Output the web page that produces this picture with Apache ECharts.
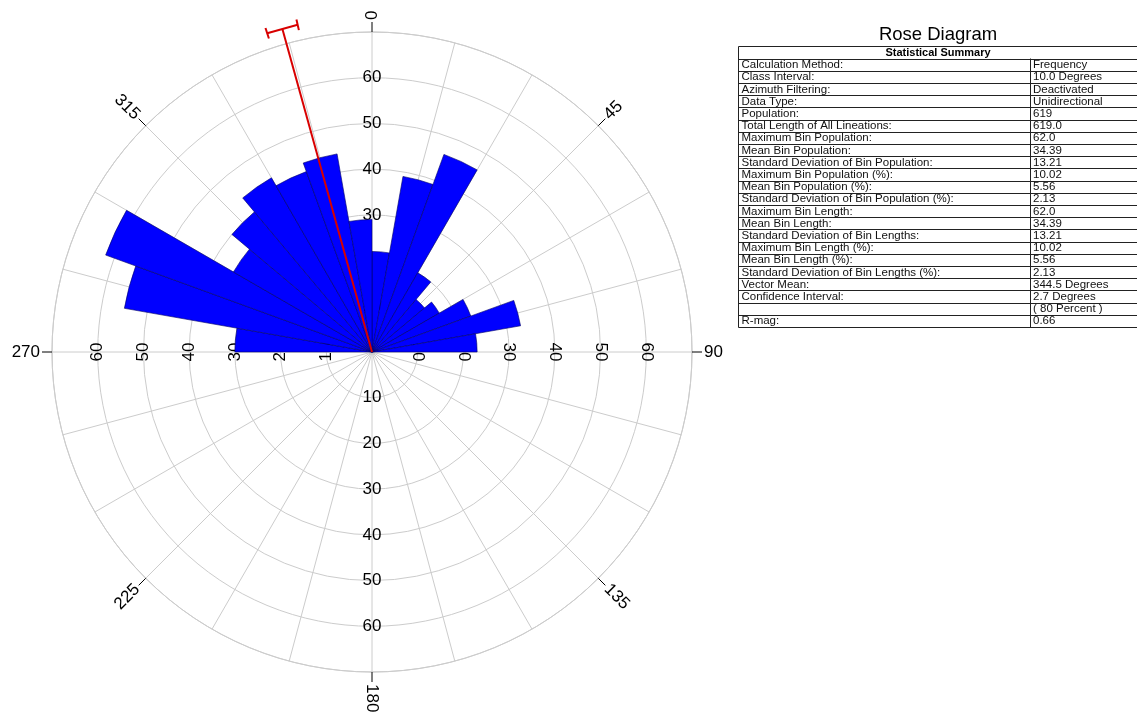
<!DOCTYPE html>
<html>
<head>
<meta charset="utf-8">
<title>Rose Diagram</title>
<script src="https://cdn.jsdelivr.net/npm/echarts@6/dist/echarts.min.js"></script>
<style>
html,body{margin:0;padding:0;background:#fff;}
#rose{width:1137px;height:713px;}
</style>
</head>
<body>
<div id="rose"></div>
<script>
// bin counts, 10 degree classes, clockwise from north (0-10, 10-20 ... 350-360)
var binCounts = [22,39,46,20,15,17,23,33,23,
                 0,0,0,0,0,0,0,0,0,
                 0,0,0,0,0,0,0,0,0,
                 30,55,62,35,40,44,42,44,29];
var binNames = [];
for (var i = 0; i < 36; i++) { binNames.push((i * 10) + "-" + (i * 10 + 10)); }

var compassTicks = [0,45,90,135,180,225,270,315];
var ringMax = 70;
var ringStep = 10;

// vector mean and its confidence interval (degrees)
var vectorMean = 344.5;
var confInterval = 2.7;
var vectorLength = 73.4;   //drawn a little past the outer ring

var statNames = ["Calculation Method:","Class Interval:","Azimuth Filtering:","Data Type:","Population:",
  "Total Length of All Lineations:","Maximum Bin Population:","Mean Bin Population:",
  "Standard Deviation of Bin Population:","Maximum Bin Population (%):","Mean Bin Population (%):",
  "Standard Deviation of Bin Population (%):","Maximum Bin Length:","Mean Bin Length:",
  "Standard Deviation of Bin Lengths:","Maximum Bin Length (%):","Mean Bin Length (%):",
  "Standard Deviation of Bin Lengths (%):","Vector Mean:","Confidence Interval:","","R-mag:"];
var statValues = ["Frequency","10.0 Degrees","Deactivated","Unidirectional","619","619.0","62.0","34.39",
  "13.21","10.02","5.56","2.13","62.0","34.39","13.21","10.02","5.56","2.13","344.5 Degrees",
  "2.7 Degrees","( 80 Percent )","0.66"];

var FONT = "'Liberation Sans', Arial, sans-serif";
var GRID = "#cccccc";

var rose = {
  center: [372, 352],
  radius: 320,

  init: function () {
    var chart = echarts.init(document.getElementById("rose"), null, {renderer: "canvas"});
    chart.setOption({
      animation: false,
      backgroundColor: "#fff",
      polar: rose.polars(),
      angleAxis: rose.angleAxes(),
      radiusAxis: rose.radiusAxes(),
      series: rose.series(),
      graphic: rose.table()
    });
  },

  polars: function () {
    var list = [];
    for (var i = 0; i < 5; i++) list.push({center: rose.center, radius: rose.radius});
    return list;
  },

  angleAxes: function () {
    return [
      {polarIndex: 0, type: "value", min: 0, max: 360, interval: 15, startAngle: 90, clockwise: true,
        axisLine: {lineStyle: {color: GRID, width: 1}}, axisTick: {show: false}, axisLabel: {show: false},
        splitLine: {show: true, lineStyle: {color: GRID, width: 1}}},
      {polarIndex: 1, type: "category", data: binNames, startAngle: 90, clockwise: true, show: false},
      {polarIndex: 2, type: "value", min: 0, max: 360, startAngle: 270, show: false},
      {polarIndex: 3, type: "value", min: 0, max: 360, startAngle: 0, show: false},
      {polarIndex: 4, type: "value", min: 0, max: 360, startAngle: 180, show: false}
    ];
  },

  //ring numbers, centred on each of the four main spokes
  ringLabel: function (rot) {
    return {show: true, rotate: rot, margin: 0, align: "center", verticalAlign: "middle",
      fontSize: 17, fontFamily: FONT, color: "#000",
      formatter: function (v) { return (v > 0 && v < ringMax) ? String(v) : ""; }};
  },

  radiusAxes: function () {
    var plain = function (idx, rot) {
      return {polarIndex: idx, type: "value", min: 0, max: ringMax, interval: ringStep,
        axisLine: {show: false}, axisTick: {show: false}, splitLine: {show: false},
        axisLabel: rose.ringLabel(rot)};
    };
    var first = plain(0, 0);
    first.splitLine = {show: true, lineStyle: {color: GRID, width: 1}};
    return [
      first,
      {polarIndex: 1, type: "value", min: 0, max: ringMax, show: false},
      plain(2, 0),
      plain(3, -90),
      plain(4, 90)
    ];
  },

  series: function () {
    return [
      {type: "bar", coordinateSystem: "polar", polarIndex: 1, data: binCounts,
        barCategoryGap: "0%", silent: true, z: 3,
        itemStyle: {color: "#0000ff", borderColor: "#000066", borderWidth: 0.6}},
      //compass tick marks and labels
      {type: "custom", coordinateSystem: "polar", polarIndex: 0, silent: true, z: 4,
        data: compassTicks.map(function (a) { return [ringMax, a]; }),
        renderItem: function (params, api) {
          var a = api.value(1);
          var p = api.coord([api.value(0), a]);
          var c = api.coord([0, a]);
          var dx = p[0] - c[0], dy = p[1] - c[1];
          var len = Math.sqrt(dx * dx + dy * dy);
          var ux = dx / len, uy = dy / len;
          var rot = 90 - a;
          if (rot < -90) rot += 180;
          var al = a <= 180 ? "left" : "right";
          return {type: "group", children: [
            {type: "line", shape: {x1: p[0], y1: p[1], x2: p[0] + ux * 10, y2: p[1] + uy * 10},
              style: {stroke: "#000", lineWidth: 1}},
            {type: "text", x: p[0] + ux * 12, y: p[1] + uy * 12, rotation: rot * Math.PI / 180,
              style: {text: String(a), fontSize: 17, fontFamily: FONT, fill: "#000",
                align: al, textAlign: al, verticalAlign: "middle", textVerticalAlign: "middle"}}
          ]};
        }},
      //vector mean with confidence bar
      {type: "custom", coordinateSystem: "polar", polarIndex: 0, silent: true, z: 5,
        data: [[vectorLength, vectorMean, confInterval]],
        renderItem: function (params, api) {
          var r = api.value(0), m = api.value(1), ci = api.value(2);
          var o = api.coord([0, m]), e = api.coord([r, m]);
          var b1 = api.coord([r, m - ci]), b2 = api.coord([r, m + ci]);
          var s1 = api.coord([r - 1.2, m - ci]), s2 = api.coord([r + 1.2, m - ci]);
          var s3 = api.coord([r - 1.2, m + ci]), s4 = api.coord([r + 1.2, m + ci]);
          var st = {stroke: "#d80000", lineWidth: 2};
          return {type: "group", children: [
            {type: "line", shape: {x1: o[0], y1: o[1], x2: e[0], y2: e[1]}, style: st},
            {type: "line", shape: {x1: b1[0], y1: b1[1], x2: b2[0], y2: b2[1]}, style: st},
            {type: "line", shape: {x1: s1[0], y1: s1[1], x2: s2[0], y2: s2[1]}, style: st},
            {type: "line", shape: {x1: s3[0], y1: s3[1], x2: s4[0], y2: s4[1]}, style: st}
          ]};
        }}
    ];
  },

  //statistical summary table on the right
  table: function () {
    var left = 738.5, right = 1138.5, top = 46.5, headBottom = 58.5, rowH = 12.2, colX = 1030.5;
    var els = [];
    var bottom = headBottom + statNames.length * rowH;
    els.push({type: "text", x: 938, y: 35, silent: true,
      style: {text: "Rose Diagram", fontSize: 18.5, fontFamily: FONT, fill: "#000",
        align: "center", textAlign: "center", verticalAlign: "middle", textVerticalAlign: "middle"}});
    els.push({type: "rect", silent: true, shape: {x: left, y: top, width: right - left, height: Math.round(bottom) - top + 0.5},
      style: {fill: "none", stroke: "#222", lineWidth: 1}});
    els.push({type: "text", x: 938, y: 52.5, silent: true,
      style: {text: "Statistical Summary", fontSize: 11, fontWeight: "bold", fontFamily: FONT, fill: "#000",
        align: "center", textAlign: "center", verticalAlign: "middle", textVerticalAlign: "middle"}});
    els.push({type: "line", silent: true, shape: {x1: colX, y1: headBottom, x2: colX, y2: Math.round(bottom) + 0.5},
      style: {stroke: "#222", lineWidth: 1}});
    for (var i = 0; i < statNames.length; i++) {
      var y = Math.round(headBottom + i * rowH) + 0.5;
      els.push({type: "line", silent: true, shape: {x1: left, y1: y, x2: right, y2: y},
        style: {stroke: "#222", lineWidth: 1}});
      var cy = headBottom + i * rowH + rowH / 2 + 0.5;
      els.push({type: "text", x: left + 3, y: cy, silent: true,
        style: {text: statNames[i], fontSize: 11.5, fontFamily: FONT, fill: "#111",
          verticalAlign: "middle", textVerticalAlign: "middle"}});
      els.push({type: "text", x: colX + 2.5, y: cy, silent: true,
        style: {text: statValues[i], fontSize: 11.5, fontFamily: FONT, fill: "#111",
          verticalAlign: "middle", textVerticalAlign: "middle"}});
    }
    return els;
  }
};

rose.init();
</script>
</body>
</html>
